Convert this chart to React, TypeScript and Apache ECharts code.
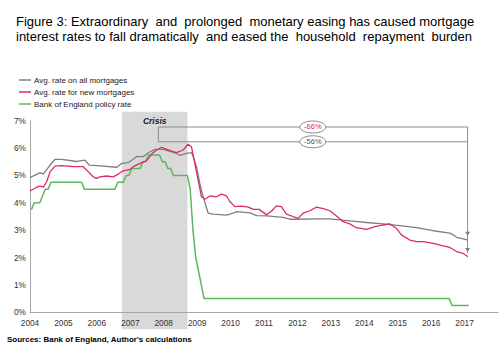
import React, { useEffect, useRef } from "react";
import * as echarts from "echarts";

// ---------- data ----------
const seriesNames = [
  "Avg. rate on all mortgages",
  "Avg. rate for new mortgages",
  "Bank of England policy rate",
];

const allMortgages: [number, number][] = [
  [2004.0, 4.92], [2004.3, 5.1], [2004.4, 5.05], [2004.6, 5.38], [2004.75, 5.59],
  [2004.95, 5.59], [2005.4, 5.51], [2005.64, 5.56], [2005.77, 5.38], [2006.0, 5.36],
  [2006.6, 5.3], [2006.74, 5.44], [2006.94, 5.47], [2007.09, 5.59], [2007.19, 5.69],
  [2007.39, 5.69], [2007.54, 5.83], [2007.74, 5.95], [2007.99, 5.95], [2008.38, 5.81],
  [2008.48, 5.73], [2008.68, 5.81], [2008.83, 5.83], [2008.88, 5.69], [2008.98, 5.32],
  [2009.08, 4.71], [2009.18, 4.22], [2009.33, 3.62], [2009.48, 3.59], [2009.88, 3.55],
  [2010.08, 3.62], [2010.18, 3.68], [2010.58, 3.63], [2010.78, 3.53], [2011.08, 3.52],
  [2011.57, 3.47], [2011.77, 3.4], [2012.02, 3.4], [2012.57, 3.41], [2012.97, 3.41],
  [2013.57, 3.34], [2014.07, 3.28], [2014.56, 3.23], [2015.06, 3.17], [2015.56, 3.09],
  [2016.06, 2.98], [2016.56, 2.89], [2016.66, 2.83], [2016.76, 2.74], [2016.96, 2.68],
  [2017.1, 2.64],
];

const newMortgages: [number, number][] = [
  [2004.0, 4.43], [2004.2, 4.57], [2004.3, 4.61], [2004.4, 4.57], [2004.5, 4.77],
  [2004.6, 5.14], [2004.75, 5.34], [2004.95, 5.36], [2005.3, 5.32], [2005.59, 5.32],
  [2005.74, 5.14], [2005.89, 4.95], [2005.99, 4.89], [2006.09, 4.95], [2006.29, 4.98],
  [2006.49, 4.95], [2006.64, 5.05], [2006.79, 5.17], [2006.99, 5.22], [2007.09, 5.32],
  [2007.29, 5.44], [2007.49, 5.54], [2007.64, 5.78], [2007.79, 5.93], [2007.94, 6.03],
  [2008.09, 5.95], [2008.38, 5.83], [2008.58, 5.93], [2008.73, 6.14], [2008.83, 6.05],
  [2008.93, 5.44], [2009.03, 4.83], [2009.13, 4.22], [2009.23, 4.13], [2009.38, 4.25],
  [2009.58, 4.22], [2009.73, 4.32], [2009.88, 4.25], [2009.98, 4.04], [2010.13, 3.86],
  [2010.33, 3.88], [2010.53, 3.84], [2010.68, 3.76], [2010.85, 3.76], [2011.08, 3.56],
  [2011.23, 3.7], [2011.37, 3.89], [2011.52, 3.86], [2011.67, 3.59], [2011.87, 3.5],
  [2012.02, 3.43], [2012.17, 3.62], [2012.37, 3.71], [2012.57, 3.84], [2012.77, 3.79],
  [2012.97, 3.71], [2013.17, 3.52], [2013.37, 3.31], [2013.57, 3.23], [2013.76, 3.09],
  [2014.07, 3.03], [2014.32, 3.13], [2014.56, 3.19], [2014.76, 3.23], [2014.96, 3.07],
  [2015.11, 2.83], [2015.36, 2.64], [2015.56, 2.58], [2015.76, 2.58], [2016.06, 2.52],
  [2016.36, 2.43], [2016.56, 2.37], [2016.76, 2.22], [2016.96, 2.15], [2017.1, 2.03],
];

// Bank Rate, monthly, Jan 2004 .. Feb 2017
const policyStartYear = 2004;
const policyRateMonthly = [
  3.75, 4.0, 4.0, 4.0, 4.25, 4.5, 4.5, 4.75, 4.75, 4.75, 4.75, 4.75, // 2004
  4.75, 4.75, 4.75, 4.75, 4.75, 4.75, 4.75, 4.5, 4.5, 4.5, 4.5, 4.5, // 2005
  4.5, 4.5, 4.5, 4.5, 4.5, 4.5, 4.5, 4.75, 4.75, 4.75, 5.0, 5.0, // 2006
  5.25, 5.25, 5.25, 5.25, 5.5, 5.5, 5.75, 5.75, 5.75, 5.75, 5.75, 5.5, // 2007
  5.5, 5.25, 5.25, 5.0, 5.0, 5.0, 5.0, 5.0, 5.0, 4.5, 3.0, 2.0, // 2008
  1.5, 1.0, 0.5, 0.5, 0.5, 0.5, 0.5, 0.5, 0.5, 0.5, 0.5, 0.5, // 2009
  0.5, 0.5, 0.5, 0.5, 0.5, 0.5, 0.5, 0.5, 0.5, 0.5, 0.5, 0.5, // 2010
  0.5, 0.5, 0.5, 0.5, 0.5, 0.5, 0.5, 0.5, 0.5, 0.5, 0.5, 0.5, // 2011
  0.5, 0.5, 0.5, 0.5, 0.5, 0.5, 0.5, 0.5, 0.5, 0.5, 0.5, 0.5, // 2012
  0.5, 0.5, 0.5, 0.5, 0.5, 0.5, 0.5, 0.5, 0.5, 0.5, 0.5, 0.5, // 2013
  0.5, 0.5, 0.5, 0.5, 0.5, 0.5, 0.5, 0.5, 0.5, 0.5, 0.5, 0.5, // 2014
  0.5, 0.5, 0.5, 0.5, 0.5, 0.5, 0.5, 0.5, 0.5, 0.5, 0.5, 0.5, // 2015
  0.5, 0.5, 0.5, 0.5, 0.5, 0.5, 0.5, 0.25, 0.25, 0.25, 0.25, 0.25, // 2016
  0.25, 0.25, // 2017
];

const yearMin = 2004;
const yearMax = 2018;
const rateMax = 7;

// annotation anchors (data coordinates)
const crisisLabel = "Crisis";
const crisisRange = [2006.75, 2008.71];
const bracketX = [2007.84, 2017.09];
const bracketLevels = { newM: 6.77, allM: 6.23 };
const arrowTips = { allM: 2.8, newM: 2.2 };
const changeLabels = { newM: "-66%", allM: "-56%" };
const changeLabelX = 2012.46;

const titleText =
  "Figure 3: Extraordinary  and  prolonged  monetary easing has caused mortgage\ninterest rates to fall dramatically  and eased the  household  repayment  burden";
const sourceText = "Sources: Bank of England, Author's calculations";

const FONT = "'Liberation Sans', Arial, sans-serif";
const COLORS = ["#7f7f7f", "#dc2c60", "#5cb85c"];

export default function App() {
  const ref = useRef<HTMLDivElement>(null);

  useEffect(() => {
    document.body.style.margin = "0";
    const chart = echarts.init(ref.current!, null, { renderer: "svg" });

    const policyData: [number, number][] = policyRateMonthly.map((v, i) => [
      policyStartYear + (i + 0.5) / 12,
      v,
    ]);

    const option: any = {
      animation: false,
      textStyle: { fontFamily: FONT },
      title: {
        text: titleText,
        left: 11,
        top: 9,
        textStyle: {
          fontFamily: FONT,
          fontSize: 13,
          fontWeight: "normal",
          color: "#000",
          lineHeight: 15,
        },
      },
      legend: {
        orient: "vertical",
        left: 14,
        top: 70,
        itemGap: 2,
        itemWidth: 12,
        itemHeight: 1.5,
        icon: "rect",
        data: seriesNames,
        textStyle: { fontSize: 8, color: "#222", lineHeight: 10, padding: [0, 0, 0, -2] },
      },
      grid: { left: 30, right: 6, top: 120.7, bottom: 47.7, containLabel: false },
      xAxis: {
        type: "value",
        min: yearMin,
        max: yearMax,
        interval: 1,
        axisLine: { lineStyle: { color: "#a6a6a6", width: 1 } },
        axisTick: { show: false },
        splitLine: { show: false },
        axisLabel: {
          fontSize: 8.3,
          color: "#333",
          margin: 7,
          formatter: (v: number) => (v === yearMax ? "" : String(v)),
        },
      },
      yAxis: {
        type: "value",
        min: 0,
        max: rateMax,
        interval: 1,
        axisLine: { show: true, lineStyle: { color: "#a6a6a6", width: 1 } },
        axisTick: { show: false },
        splitLine: { show: false },
        axisLabel: { fontSize: 8.3, color: "#333", margin: 4, formatter: "{value}%" },
      },
      series: [
        {
          name: seriesNames[0],
          type: "line",
          data: allMortgages,
          symbol: "none",
          lineStyle: { color: COLORS[0], width: 1.3 },
          itemStyle: { color: COLORS[0] },
          z: 3,
        },
        {
          name: seriesNames[1],
          type: "line",
          data: newMortgages,
          symbol: "none",
          lineStyle: { color: COLORS[1], width: 1.3 },
          itemStyle: { color: COLORS[1] },
          z: 4,
        },
        {
          name: seriesNames[2],
          type: "line",
          data: policyData,
          symbol: "none",
          lineStyle: { color: COLORS[2], width: 1.5 },
          itemStyle: { color: COLORS[2] },
          z: 2,
        },
      ],
    };
    chart.setOption(option);

    const p = (x: number, y: number) =>
      chart.convertToPixel({ gridIndex: 0 } as any, [x, y]) as number[];

    const [cx0, yTop] = p(crisisRange[0], rateMax);
    const [cx1, yBottom] = p(crisisRange[1], 0);
    const [bx0, yNew] = p(bracketX[0], bracketLevels.newM);
    const [bx1, yAll] = p(bracketX[1], bracketLevels.allM);
    const [, yTipAll] = p(bracketX[1], arrowTips.allM);
    const [, yTipNew] = p(bracketX[1], arrowTips.newM);
    const [lx] = p(changeLabelX, 0);

    const lineStyle = { stroke: "#8c8c8c", lineWidth: 1, fill: null };
    const arrow = (tipY: number) => ({
      type: "polygon",
      z: 10,
      shape: {
        points: [
          [bx1 - 2.5, tipY - 4],
          [bx1 + 2.5, tipY - 4],
          [bx1, tipY],
        ],
      },
      style: { fill: "#7f7f7f" },
    });
    const bubble = (cy: number, text: string, color: string) => [
      {
        type: "ellipse",
        z: 10,
        shape: { cx: lx, cy, rx: 13, ry: 6 },
        style: { fill: "#fff", stroke: "#8c8c8c", lineWidth: 1 },
      },
      {
        type: "text",
        z: 11,
        style: {
          text,
          x: lx,
          y: cy,
          align: "center",
          verticalAlign: "middle",
          fill: color,
          font: `7.5px ${FONT}`,
        },
      },
    ];

    chart.setOption({
      graphic: [
        {
          type: "rect",
          z: -10,
          silent: true,
          shape: { x: cx0, y: yTop - 9, width: cx1 - cx0, height: yBottom - yTop + 26 },
          style: { fill: "#d9d9d9" },
        },
        {
          type: "text",
          z: 10,
          style: {
            text: crisisLabel,
            x: (cx0 + cx1) / 2,
            y: yTop,
            align: "center",
            verticalAlign: "middle",
            fill: "#222",
            font: `italic bold 8.5px ${FONT}`,
          },
        },
        {
          type: "polyline",
          z: 9,
          shape: { points: [[bx0, yAll], [bx0, yNew], [bx1, yNew], [bx1, yTipNew + 1]] },
          style: lineStyle,
        },
        {
          type: "line",
          z: 9,
          shape: { x1: bx0, y1: yAll, x2: bx1, y2: yAll },
          style: lineStyle,
        },
        arrow(yTipAll),
        arrow(yTipNew),
        ...bubble(yNew, changeLabels.newM, COLORS[1]),
        ...bubble(yAll, changeLabels.allM, "#555"),
        {
          type: "text",
          z: 10,
          style: {
            text: sourceText,
            x: 7,
            y: 339,
            verticalAlign: "middle",
            fill: "#000",
            font: `bold 8px ${FONT}`,
          },
        },
      ],
    });

    return () => chart.dispose();
  }, []);

  return (
    <div
      ref={ref}
      style={{ position: "fixed", left: 0, top: 0, width: 504, height: 360, background: "#fff" }}
    />
  );
}
